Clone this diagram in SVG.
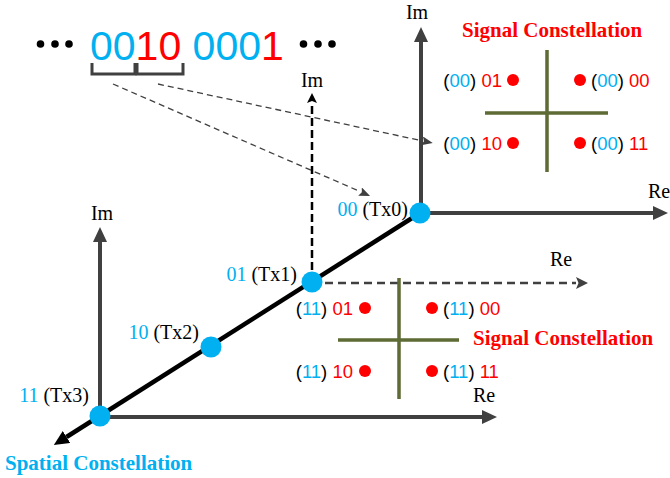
<svg xmlns="http://www.w3.org/2000/svg" width="670" height="478" viewBox="0 0 670 478">
<style>
.ax{stroke:#404040;stroke-width:4;fill:none}
.thick{stroke:#000;stroke-width:4.5;fill:none}
.dd{stroke:#404040;stroke-width:1.3;stroke-dasharray:6 4;fill:none}
.dv{stroke:#000;stroke-width:2.5;stroke-dasharray:8 4;fill:none}
.dh{stroke:#404040;stroke-width:2.5;stroke-dasharray:8 5;fill:none}
.cross{stroke:#5e6b35;stroke-width:3.5;fill:none}
.node{fill:#00b0f0}
.pt{fill:#ff0000}
.ser{font-family:"Liberation Serif","Times New Roman",serif;font-size:20px;fill:#000}
.san{font-family:"Liberation Sans",Arial,sans-serif;font-size:18.5px;fill:#000}
.title{font-family:"Liberation Serif","Times New Roman",serif;font-size:21px;font-weight:bold}
.b{fill:#00b0f0}
.r{fill:#ff0000}
.brk{stroke:#404040;stroke-width:3;fill:none}
</style>
<defs>
<marker id="ahG" markerUnits="userSpaceOnUse" markerWidth="16" markerHeight="14" refX="0" refY="7" orient="auto"><path d="M0,0 L15,7 L0,14 z" fill="#404040"/></marker>
<marker id="ahK" markerUnits="userSpaceOnUse" markerWidth="16" markerHeight="14" refX="0" refY="7" orient="auto"><path d="M0,0 L15,7 L0,14 z" fill="#000"/></marker>
<marker id="ahS" markerUnits="userSpaceOnUse" markerWidth="12" markerHeight="10" refX="0" refY="4.5" orient="auto"><path d="M0,0 L11,4.5 L0,9 L2,4.5 z" fill="#404040"/></marker>
<marker id="ahV" markerUnits="userSpaceOnUse" markerWidth="12" markerHeight="11" refX="0" refY="5" orient="auto"><path d="M0,0 L10,5 L0,10 L2,5 z" fill="#000"/></marker>
<marker id="ahH" markerUnits="userSpaceOnUse" markerWidth="14" markerHeight="12" refX="0" refY="6" orient="auto"><path d="M0,0 L12,6 L0,12 L2.5,6 z" fill="#404040"/></marker>
</defs>

<g id="bitstream">
<circle cx="40.5" cy="44" r="3.8"/><circle cx="55" cy="44" r="3.8"/><circle cx="69" cy="44" r="3.8"/>
<text x="90" y="60" font-family="'Liberation Sans',Arial,sans-serif" font-size="41"><tspan class="b">00</tspan><tspan class="r">10</tspan><tspan class="b"> 000</tspan><tspan class="r">1</tspan></text>
<circle cx="303.5" cy="44" r="3.8"/><circle cx="318" cy="44" r="3.8"/><circle cx="332" cy="44" r="3.8"/>
<path class="brk" d="M92,63 V74 H135 V63"/>
<path class="brk" d="M137,63 V74 H183 V63"/>
</g>

<g id="connectors">
<path class="ax" d="M421,213 V42" marker-end="url(#ahG)"/>
<path class="ax" d="M421,213 H653" marker-end="url(#ahG)"/>
<path class="ax" d="M100,417 V242" marker-end="url(#ahG)"/>
<path class="ax" d="M100,417 H482" marker-end="url(#ahG)"/>
<path class="thick" d="M420,213 L66.5,437" marker-end="url(#ahK)"/>
<path class="dv" d="M312,282 V103" marker-end="url(#ahV)"/>
<path class="dh" d="M312,283 H576" marker-end="url(#ahH)"/>
<path class="dd" d="M113,84 L360,191.5" marker-end="url(#ahS)"/>
<path class="dd" d="M158,84 L422,140.8" marker-end="url(#ahS)"/>
</g>

<g id="axis-labels" class="ser">
<text x="417" y="19" text-anchor="middle">Im</text>
<text x="648" y="198">Re</text>
<text x="312" y="87" text-anchor="middle">Im</text>
<text x="550" y="266">Re</text>
<text x="102" y="220" text-anchor="middle">Im</text>
<text x="473" y="402">Re</text>
</g>

<g id="tx0"><circle class="node" cx="420" cy="213" r="10.5"/><text class="ser" x="408" y="216" text-anchor="end"><tspan class="b">00</tspan> (Tx0)</text></g>
<g id="tx1"><circle class="node" cx="312" cy="282" r="10.5"/><text class="ser" x="297" y="281" text-anchor="end"><tspan class="b">01</tspan> (Tx1)</text></g>
<g id="tx2"><circle class="node" cx="211" cy="347" r="10.5"/><text class="ser" x="199" y="339" text-anchor="end"><tspan class="b">10</tspan> (Tx2)</text></g>
<g id="tx3"><circle class="node" cx="100" cy="416" r="10.5"/><text class="ser" x="89" y="402" text-anchor="end"><tspan class="b">11</tspan> (Tx3)</text></g>

<g id="spatial-title"><text class="title" x="5" y="470" fill="#00b0f0" font-size="21.5">Spatial Constellation</text></g>

<g id="signal-constellation-top">
<text class="title r" x="462" y="37">Signal Constellation</text>
<path class="cross" d="M547,50 V172 M485,113 H608"/>
<circle class="pt" cx="513" cy="80" r="6"/><circle class="pt" cx="580" cy="80" r="6"/>
<circle class="pt" cx="513" cy="143" r="6"/><circle class="pt" cx="580" cy="143" r="6"/>
<text class="san" x="502" y="86.5" text-anchor="end">(<tspan class="b">00</tspan>) <tspan class="r">01</tspan></text>
<text class="san" x="591" y="86.5">(<tspan class="b">00</tspan>) <tspan class="r">00</tspan></text>
<text class="san" x="502" y="149.5" text-anchor="end">(<tspan class="b">00</tspan>) <tspan class="r">10</tspan></text>
<text class="san" x="591" y="149.5">(<tspan class="b">00</tspan>) <tspan class="r">11</tspan></text>
</g>

<g id="signal-constellation-bottom">
<text class="title r" x="473" y="345">Signal Constellation</text>
<path class="cross" d="M399,278 V399 M338,340 H459"/>
<circle class="pt" cx="365" cy="308" r="6"/><circle class="pt" cx="432" cy="308" r="6"/>
<circle class="pt" cx="365" cy="371" r="6"/><circle class="pt" cx="432" cy="371" r="6"/>
<text class="san" x="353" y="314.5" text-anchor="end">(<tspan class="b">11</tspan>) <tspan class="r">01</tspan></text>
<text class="san" x="443" y="314.5">(<tspan class="b">11</tspan>) <tspan class="r">00</tspan></text>
<text class="san" x="353" y="377.5" text-anchor="end">(<tspan class="b">11</tspan>) <tspan class="r">10</tspan></text>
<text class="san" x="443" y="377.5">(<tspan class="b">11</tspan>) <tspan class="r">11</tspan></text>
</g>
</svg>
